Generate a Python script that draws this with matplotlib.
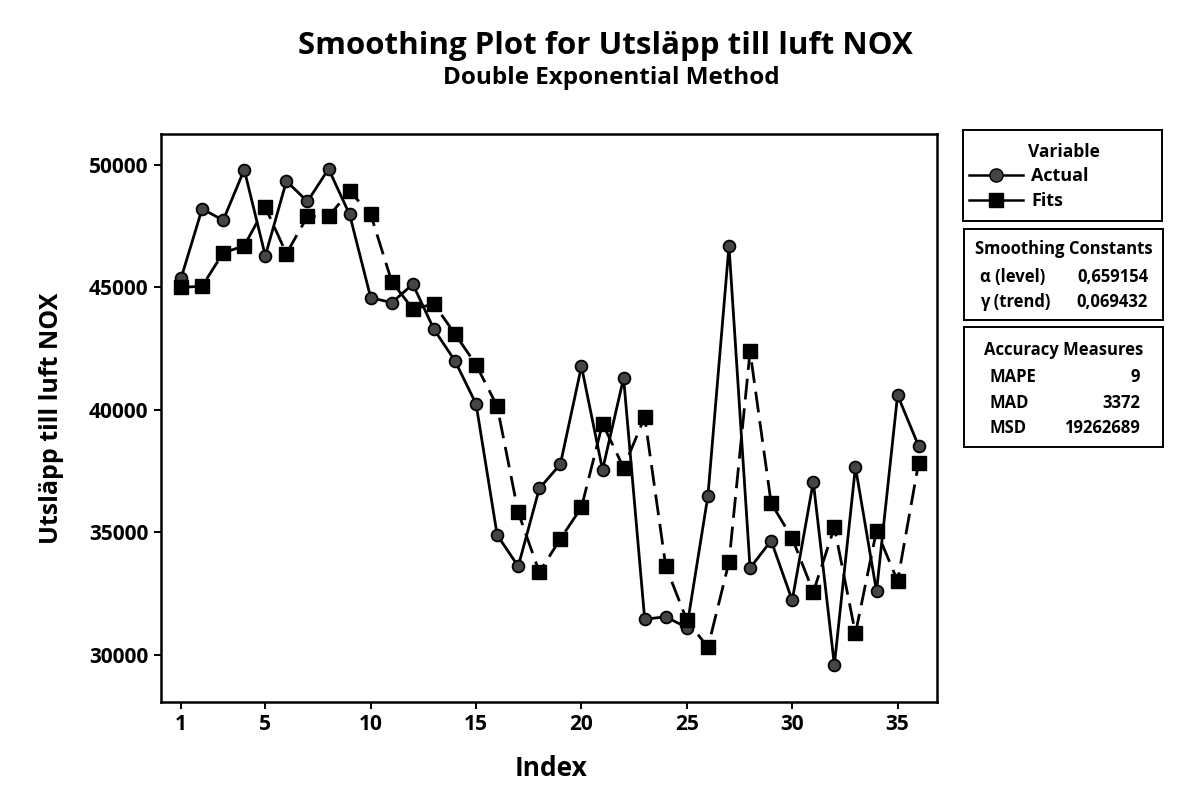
import matplotlib
matplotlib.use("Agg")
import matplotlib.pyplot as plt
from matplotlib.lines import Line2D

# data
index = list(range(1, 37))
actual = [45370, 48210, 47740, 49810, 46290, 49340, 48510, 49840, 47980, 44580,
          44380, 45130, 43290, 42000, 40240, 34890, 33610, 36790, 37780, 41780,
          37550, 41300, 31450, 31550, 31110, 36490, 46700, 33540, 34660, 32220,
          37060, 29580, 37670, 32590, 40600, 38520]
fits = [45000, 45050, 46410, 46700, 48280, 46380, 47900, 47900, 48930, 47980,
        45230, 44120, 44320, 43100, 41840, 40150, 35810, 33370, 34730, 36020,
        39440, 37640, 39700, 33610, 31410, 30300, 33780, 42390, 36190, 34760,
        32560, 35200, 30870, 35070, 33010, 37850]
x_ticks = [1, 5, 10, 15, 20, 25, 30, 35]
y_ticks = [30000, 35000, 40000, 45000, 50000]

constants = [("α (level)", "0,659154"), ("γ (trend)", "0,069432")]
accuracy = [("MAPE", "9"), ("MAD", "3372"), ("MSD", "19262689")]

plt.rcParams['font.family'] = ['Open Sans', 'DejaVu Sans']
plt.rcParams['font.weight'] = 'bold'

W, H = 1187, 801
fig = plt.figure(figsize=(W / 100, H / 100), dpi=100)


def fx(x):
    return x / W


def fy(y):
    return 1 - y / H


def box(x0, y0, x1, y1):
    # axes used as an outlined text box, pixel corners
    b = fig.add_axes([fx(x0), fy(y1), fx(x1 - x0), (y1 - y0) / H])
    b.set_xticks([])
    b.set_yticks([])
    for s in b.spines.values():
        s.set_linewidth(1.4)
    return b


ax = fig.add_axes([fx(161), fy(702), fx(937 - 161), (702 - 134) / H])

ax.plot(index, actual, color='black', lw=2.0, marker='o', ms=8.5,
        mfc='#454545', mec='black', mew=1.3, zorder=3)
ax.plot(index, fits, color='black', lw=2.0, dashes=(7.5, 3.2), marker='s',
        ms=10.5, mfc='black', mec='black', zorder=4)

ax.set_xlim(0.05, 36.87)
ax.set_ylim(28070, 51265)
ax.set_xticks(x_ticks)
ax.set_yticks(y_ticks)
ax.tick_params(direction='out', length=5, width=1.4, labelsize=15, pad=4)
for s in ax.spines.values():
    s.set_linewidth(1.8)

fig.text(fx(605), fy(46), "Smoothing Plot for Utsläpp till luft NOX",
         ha='center', va='center', fontsize=22.5)
fig.text(fx(611), fy(78), "Double Exponential Method",
         ha='center', va='center', fontsize=17.5)
fig.text(fx(52), fy(418), "Utsläpp till luft NOX", rotation=90,
         ha='center', va='center', fontsize=18)
fig.text(fx(551), fy(768), "Index", ha='center', va='center', fontsize=19)

# legend box
box(963, 130, 1162, 221)
fig.text(fx(1064), fy(152), "Variable", ha='center', va='center', fontsize=12.5)
handles = [
    Line2D([], [], color='black', lw=1.8, marker='o', ms=9.5, mfc='#454545', mec='black'),
    Line2D([], [], color='black', lw=1.8, marker='s', ms=10.5, mfc='black', mec='black'),
]
fig.legend(handles, ["Actual", "Fits"], loc='upper left',
           bbox_to_anchor=(fx(969), fy(167)), bbox_transform=fig.transFigure,
           frameon=False, fontsize=13, handlelength=3.0, handletextpad=0.45,
           labelspacing=0.38, borderpad=0, borderaxespad=0)

# smoothing constants box
box(964, 229, 1163, 320)
fig.text(fx(1064), fy(249), "Smoothing Constants", ha='center', va='center',
         fontsize=12)
for i, (name, val) in enumerate(constants):
    yy = 277 + i * 25
    fig.text(fx(980), fy(yy), name, ha='left', va='center', fontsize=12)
    fig.text(fx(1148), fy(yy), val, ha='right', va='center', fontsize=12)

# accuracy measures box
box(964, 327, 1163, 447)
fig.text(fx(1064), fy(350), "Accuracy Measures", ha='center', va='center',
         fontsize=12)
for i, (name, val) in enumerate(accuracy):
    yy = 377 + i * 25.5
    fig.text(fx(990), fy(yy), name, ha='left', va='center', fontsize=12)
    fig.text(fx(1140), fy(yy), val, ha='right', va='center', fontsize=12)

fig.savefig("out.png", dpi=100)
